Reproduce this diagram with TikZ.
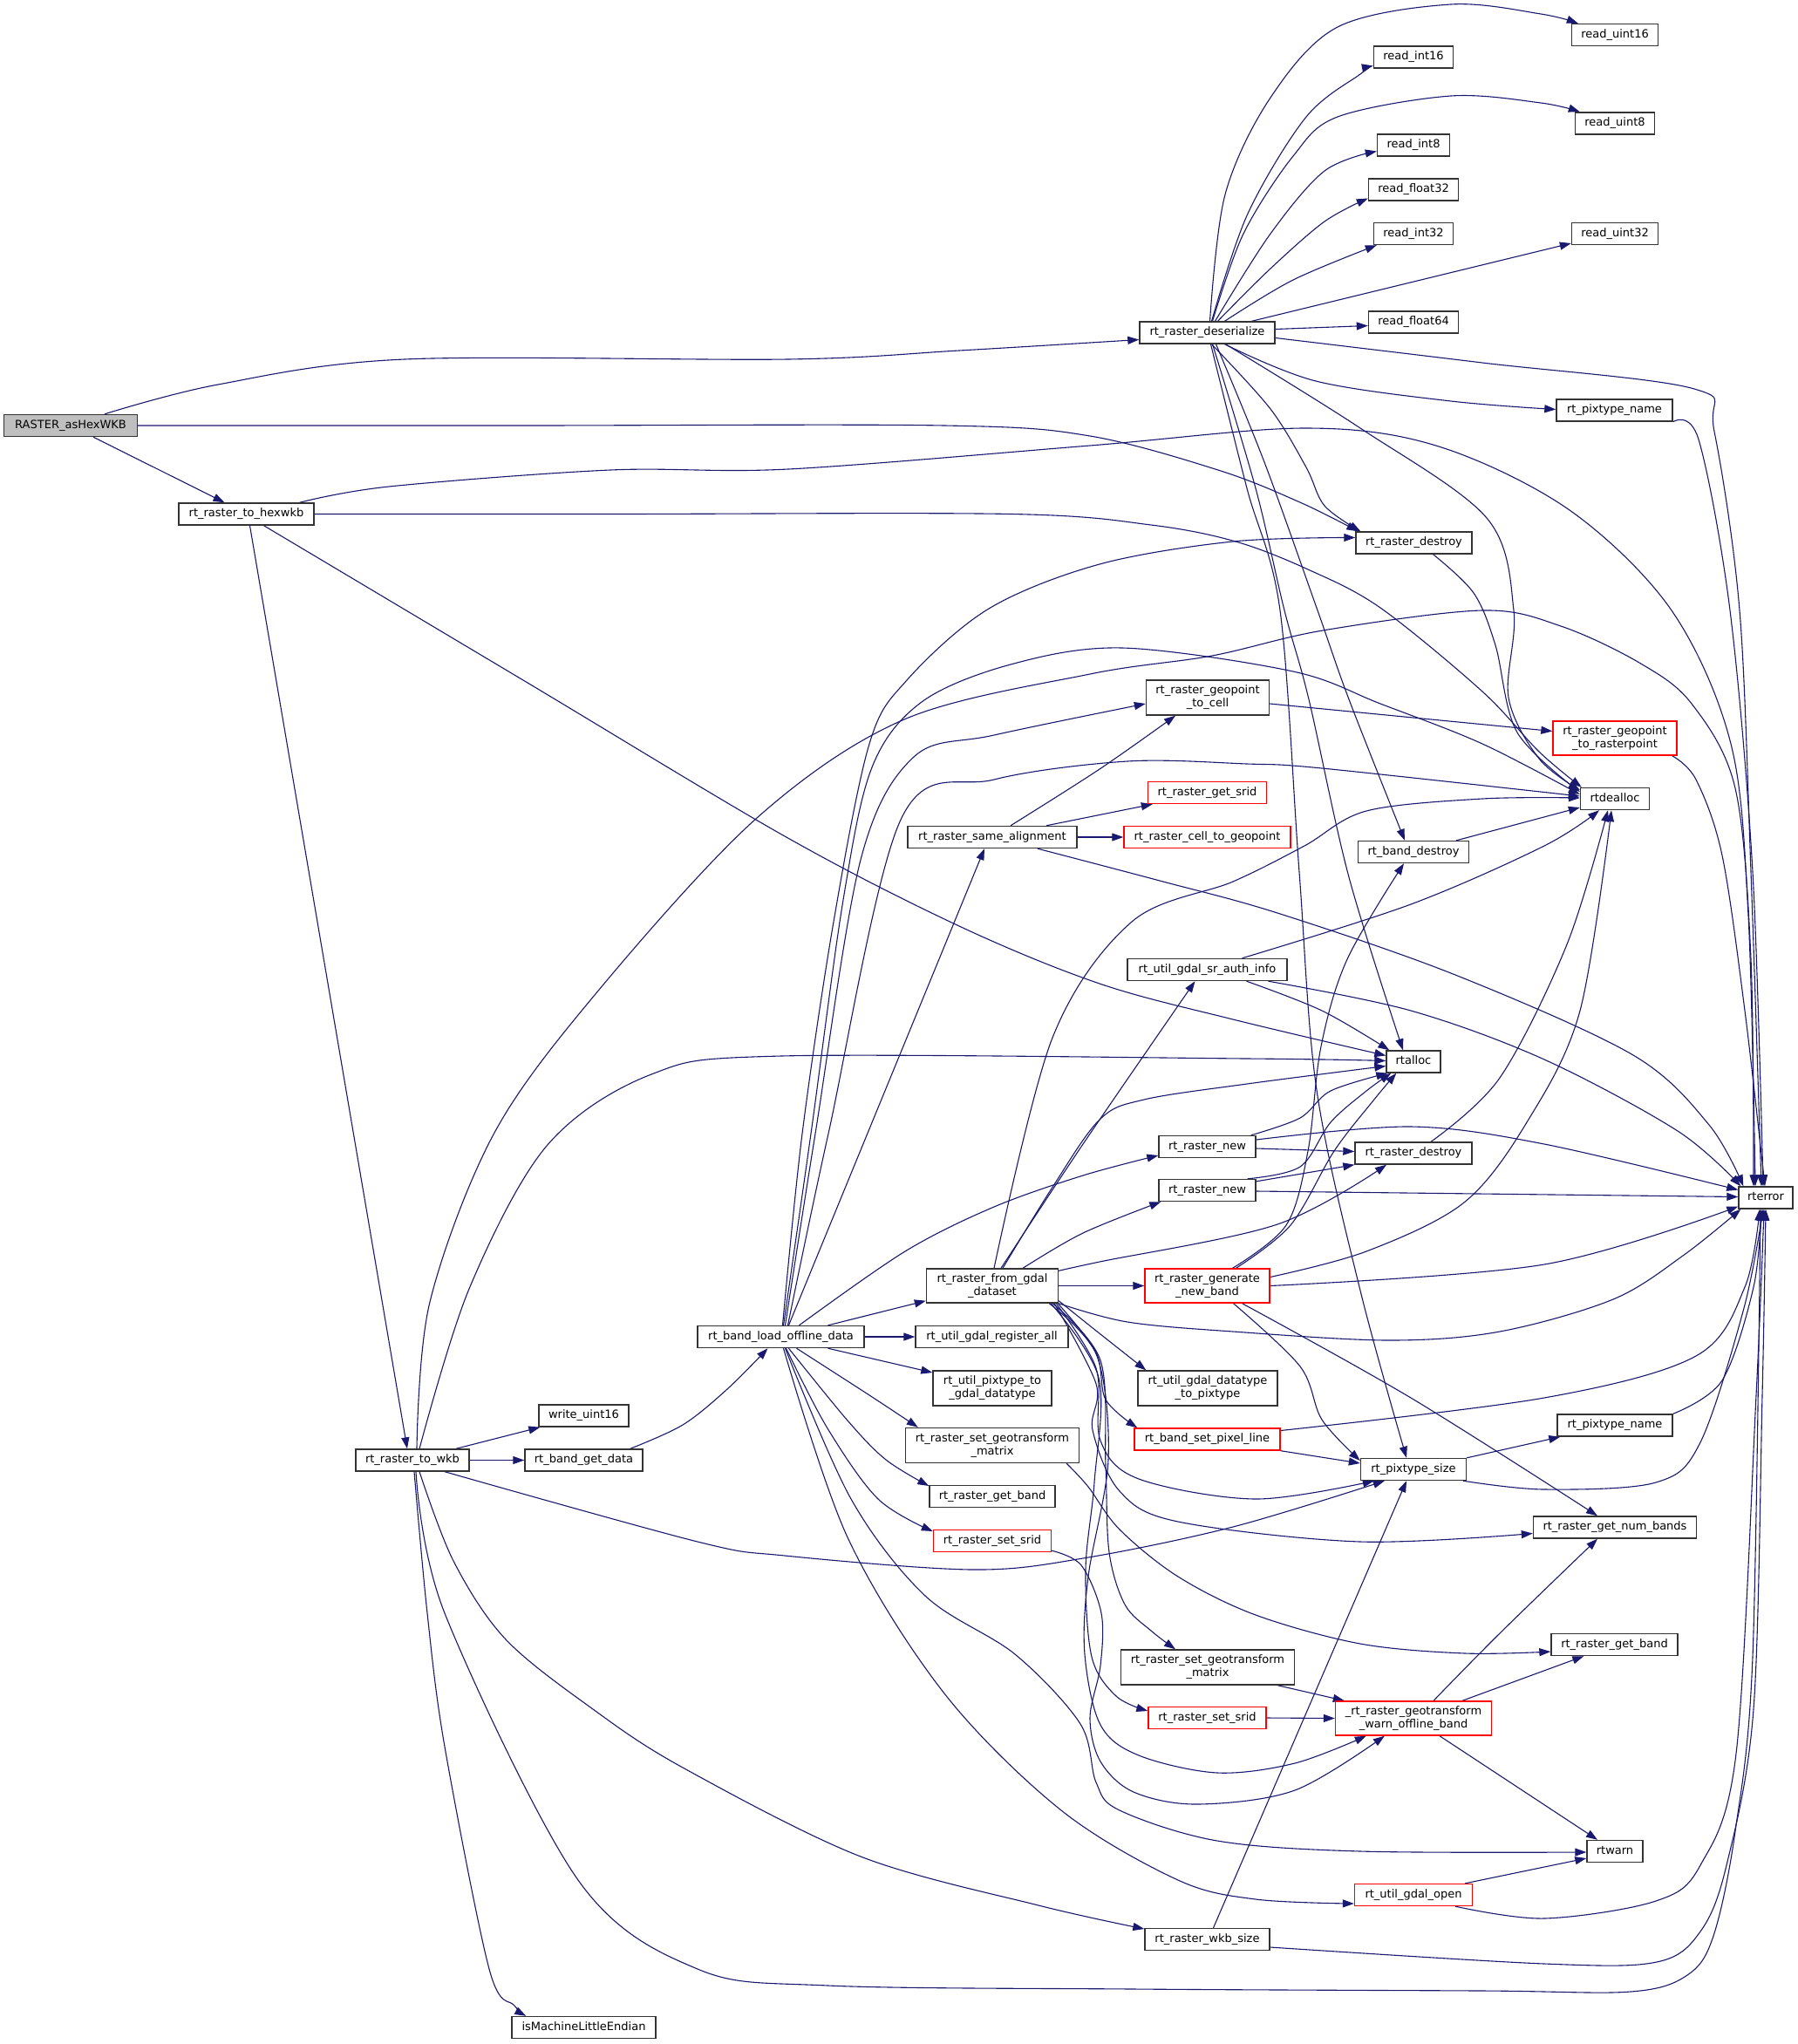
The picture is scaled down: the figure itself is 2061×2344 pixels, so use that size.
\documentclass[tikz,border=0pt]{standalone}
\usepackage{fontspec}
\setmainfont{DejaVu Sans}
\usetikzlibrary{arrows.meta,calc,backgrounds}
\definecolor{edgec}{HTML}{191970}
\definecolor{bordc}{HTML}{333333}
\definecolor{redc}{HTML}{FF0000}
\definecolor{grayc}{HTML}{BFBFBF}
\newcommand\dxfont{\fontsize{13pt}{15pt}\selectfont}
\begin{document}
\begin{tikzpicture}[x=1pt,y=-1pt,
  edg/.style={draw=edgec, line width=1.1pt, -{Triangle[length=13pt,width=9pt]}},
  edgs/.style={edg, smooth, tension=0.55},
  nd/.style={draw=bordc, line width=1.4pt, fill=white, inner sep=0pt, minimum height=25pt, font=\dxfont, text height=9.8pt, text depth=3.4pt},
  ndd/.style={draw=bordc, line width=1.4pt, fill=white, inner sep=0pt, minimum height=40pt, font=\dxfont, align=center},
  rd/.style={draw=redc}]
\useasboundingbox (0,0) rectangle (2061,2344);
% nodes
\node[nd, minimum width=153pt, fill=grayc] (A) at (81,488) {RASTER\_asHexWKB};
\node[nd, minimum width=155pt] (H) at (282.5,589.5) {rt\_raster\_to\_hexwkb};
\node[nd, minimum width=130pt] (W) at (473,1674.5) {rt\_raster\_to\_wkb};
\node[nd, minimum width=155pt] (D) at (1384.5,381.5) {rt\_raster\_deserialize};
\node[nd, minimum width=99pt] (RU16) at (1852,40) {read\_uint16};
\node[nd, minimum width=91pt] (RI16) at (1621,65.5) {read\_int16};
\node[nd, minimum width=91pt] (RU8) at (1852,141.5) {read\_uint8};
\node[nd, minimum width=83pt] (RI8) at (1621,166.5) {read\_int8};
\node[nd, minimum width=103pt] (RF32) at (1621,217.5) {read\_float32};
\node[nd, minimum width=91pt] (RI32) at (1621,268) {read\_int32};
\node[nd, minimum width=99pt] (RU32) at (1852,268) {read\_uint32};
\node[nd, minimum width=103pt] (RF64) at (1621,369.5) {read\_float64};
\node[nd, minimum width=133pt] (PN1) at (1851.5,470.5) {rt\_pixtype\_name};
\node[nd, minimum width=133pt] (RD1) at (1621.5,622.5) {rt\_raster\_destroy};
\node[ndd, minimum width=141pt] (GC) at (1385,800) {rt\_raster\_geopoint\\\_to\_cell};
\node[ndd, rd, minimum width=142pt, minimum height=39pt] (GR) at (1852,846.5) {rt\_raster\_geopoint\\\_to\_rasterpoint};
\node[nd, minimum width=79pt] (DA) at (1852,916) {rtdealloc};
\node[nd, rd, minimum width=136pt] (GS) at (1384.5,909) {rt\_raster\_get\_srid};
\node[nd, rd, minimum width=191pt] (CG) at (1384.5,960) {rt\_raster\_cell\_to\_geopoint};
\node[nd, minimum width=194pt] (SA) at (1138,960) {rt\_raster\_same\_alignment};
\node[nd, minimum width=127pt] (BD) at (1621,977) {rt\_band\_destroy};
\node[nd, minimum width=183pt] (SR) at (1384.5,1112) {rt\_util\_gdal\_sr\_auth\_info};
\node[nd, minimum width=62pt] (AL) at (1621,1217.5) {rtalloc};
\node[nd, minimum width=111pt] (RN1) at (1384.5,1315) {rt\_raster\_new};
\node[nd, minimum width=111pt] (RN2) at (1384.5,1365) {rt\_raster\_new};
\node[nd, minimum width=134pt] (RD2) at (1621,1322.5) {rt\_raster\_destroy};
\node[nd, minimum width=62pt] (E) at (2025,1373.5) {rterror};
\node[ndd, minimum width=151pt, minimum height=39pt] (FG) at (1138,1474.5) {rt\_raster\_from\_gdal\\\_dataset};
\node[ndd, rd, minimum width=143pt, minimum height=39pt] (GNB) at (1384.5,1474.5) {rt\_raster\_generate\\\_new\_band};
\node[nd, minimum width=191pt] (BL) at (895.5,1533) {rt\_band\_load\_offline\_data};
\node[nd, minimum width=175pt] (URA) at (1137.5,1533) {rt\_util\_gdal\_register\_all};
\node[ndd, minimum width=136pt] (UPG) at (1138,1592) {rt\_util\_pixtype\_to\\\_gdal\_datatype};
\node[ndd, minimum width=160pt] (UGP) at (1385,1592) {rt\_util\_gdal\_datatype\\\_to\_pixtype};
\node[ndd, minimum width=199pt] (SGM1) at (1138,1657.5) {rt\_raster\_set\_geotransform\\\_matrix};
\node[nd, rd, minimum width=167pt] (BSP) at (1384.5,1650.5) {rt\_band\_set\_pixel\_line};
\node[nd, minimum width=132pt] (PN2) at (1852,1634.5) {rt\_pixtype\_name};
\node[nd, minimum width=121pt] (PS) at (1621,1685) {rt\_pixtype\_size};
\node[nd, minimum width=144pt] (GB1) at (1138,1716) {rt\_raster\_get\_band};
\node[nd, minimum width=187pt] (NB) at (1852,1751.5) {rt\_raster\_get\_num\_bands};
\node[nd, rd, minimum width=135pt] (SS1) at (1138,1767) {rt\_raster\_set\_srid};
\node[nd, minimum width=145pt] (GB2) at (1851.5,1886) {rt\_raster\_get\_band};
\node[ndd, minimum width=199pt] (SGM2) at (1385,1912) {rt\_raster\_set\_geotransform\\\_matrix};
\node[nd, rd, minimum width=135pt] (SS2) at (1384.5,1970) {rt\_raster\_set\_srid};
\node[ndd, rd, minimum width=179pt, minimum height=39pt] (WOB) at (1621,1970.5) {\_rt\_raster\_geotransform\\\_warn\_offline\_band};
\node[nd, minimum width=64pt] (RW) at (1852,2123) {rtwarn};
\node[nd, rd, minimum width=135pt] (GO) at (1621,2173) {rt\_util\_gdal\_open};
\node[nd, minimum width=143pt] (WS) at (1384.5,2224) {rt\_raster\_wkb\_size};
\node[nd, minimum width=103pt] (WU16) at (669.5,1623.5) {write\_uint16};
\node[nd, minimum width=135pt] (BGD) at (669.5,1674.5) {rt\_band\_get\_data};
\node[nd, minimum width=165pt] (ME) at (669.5,2325) {isMachineLittleEndian};
\begin{pgfonlayer}{background}
\fill[white] (0,0) rectangle (2061,2344);
% A
\draw[edgs] plot coordinates {($(A.north)+(39,0)$) (250,441) (464,412) (904,412) (1100,402) ($(D.west)+(0,8)$)};
\draw[edgs] plot coordinates {(A.east) (600,488) (1083,488) (1250,500) (1400,540) (1493,577) ($(RD1.north west)+(3,0)$)};
\draw[edg] ($(A.south)+(26,0)$) -- ($(H.north)+(-25,0)$);
% H
\draw[edgs] plot coordinates {($(H.north)+(61,0)$) (446,558) (700,539) (904,538) (1250,511) (1498,491) (1650,512) (1800,585) (1917,700) (1985,853) (2005,1050) ($(E.north)+(-12,0)$)};
\draw[edgs] plot coordinates {(H.east) (700,589.5) (1160,589.5) (1320,602) (1417,621) (1500,653) (1583,697) (1700,793) (1765,862) ($(DA.north west)+(2,0)$)};
\draw[edgs] plot coordinates {($(H.south)+(20,0)$) (600,780) (900,959) (1100,1062) (1261,1128) (1414,1169) ($(AL.west)+(0,-7)$)};
\draw[edg] ($(H.south)+(4,0)$) -- ($(W.north)+(-6,0)$);
% D
\draw[edgs] plot coordinates {($(D.north)+(3,0)$) (1405,223) (1457,112) (1534,31) (1664,5) (1767,16) ($(RU16.north west)+(8,0)$)};
\draw[edgs] plot coordinates {($(D.north)+(5,0)$) (1431,245) (1498,134) (1560,85) ($(RI16.west)+(0,10)$)};
\draw[edgs] plot coordinates {($(D.north)+(6,0)$) (1426,268) (1483,179) (1534,134) (1664,110) (1767,118) ($(RU8.north west)+(6,0)$)};
\draw[edgs] plot coordinates {($(D.north)+(9,0)$) (1457,268) (1519,196) ($(RI8.west)+(0,7)$)};
\draw[edgs] plot coordinates {($(D.north)+(12,0)$) (1457,308) (1519,254) ($(RF32.west)+(0,10)$)};
\draw[edgs] plot coordinates {($(D.north)+(20,0)$) (1483,321) ($(RI32.south west)+(4,0)$)};
\draw[edg] ($(D.north)+(51,0)$) -- ($(RU32.west)+(0,11)$);
\draw[edg] ($(D.east)+(0,-4)$) -- ($(RF64.west)+(0,4)$);
\draw[edgs] plot coordinates {($(D.east)+(0,6)$) (1700,416) (1943,446) (1966,495) (1995,700) (2008,1000) ($(E.north)+(-5,0)$)};
\draw[edgs] plot coordinates {($(D.south)+(20,0)$) (1509,437) (1664,460) ($(PN1.west)+(0,-1)$)};
\draw[edgs] plot coordinates {($(D.south)+(5,0)$) (1457,469) (1498,536) (1519,580) ($(RD1.north west)+(6,0)$)};
\draw[edgs] plot coordinates {($(D.south)+(21,0)$) (1560,491) (1705,594) (1736,700) (1730,800) (1765,870) ($(DA.west)+(0,-10)$)};
\draw[edgs] plot coordinates {($(D.south)+(10,0)$) (1450,530) (1511,700) (1547,802) ($(BD.north)+(-10,0)$)};
\draw[edgs] plot coordinates {($(D.south)+(6,0)$) (1440,560) (1473,700) (1501,802) (1547,1006) ($(AL.north)+(-12,0)$)};
\draw[edgs] plot coordinates {($(D.south)+(4,0)$) (1430,560) (1468,700) (1490,1000) (1510,1250) (1560,1480) ($(PS.north)+(-8,0)$)};
% PN1 RD1 GC GR SA
\draw[edgs] plot coordinates {(PN1.south east) (1948,504) (1984,700) (2010,1000) ($(E.north)+(-3,0)$)};
\draw[edgs] plot coordinates {($(RD1.south)+(22,0)$) (1690,680) (1715,740) (1740,840) ($(DA.west)+(0,-8)$)};
\draw[edg] ($(GC.east)+(0,7)$) -- ($(GR.west)+(0,-8)$);
\draw[edgs] plot coordinates {($(GR.south east)+(-6,0)$) (1945,894) (1975,981) (2001,1159) ($(E.north)+(-1,0)$)};
\draw[edgs] plot coordinates {($(SA.north)+(21,0)$) (1261,882) ($(GC.south)+(-37,0)$)};
\draw[edg] ($(SA.north)+(62,0)$) -- ($(GS.south west)+(6,0)$);
\draw[edg] (SA.east) -- (CG.west);
\draw[edgs] plot coordinates {($(SA.south)+(52,0)$) (1330,1010) (1465,1047) (1669,1118) (1873,1210) (1960,1290) ($(E.north west)+(6,0)$)};
% BL
\draw[edgs] plot coordinates {($(BL.north)+(2,0)$) (920,1300) (956,1057) (997,853) (1040,780) (1134,698) (1261,647) (1414,621) ($(RD1.west)+(0,-6)$)};
\draw[edgs] plot coordinates {($(BL.north)+(3,0)$) (930,1300) (967,1032) (1000,880) (1057,805) (1159,762) (1287,743) (1483,770) (1583,807) (1700,853) ($(DA.west)+(0,-5)$)};
\draw[edgs] plot coordinates {($(BL.north)+(5,0)$) (935,1300) (987,986) (1048,868) (1140,843) ($(GC.west)+(0,7)$)};
\draw[edgs] plot coordinates {($(BL.north)+(8,0)$) (950,1300) (1033,940) (1140,894) (1293,873) (1430,876) (1516,881) ($(DA.west)+(0,-3)$)};
\draw[edg] ($(BL.north)+(9,0)$) -- ($(SA.south)+(-9,0)$);
\draw[edgs] plot coordinates {($(BL.north)+(21,0)$) (1038,1435) (1140,1384) (1242,1348) ($(RN1.west)+(0,10)$)};
\draw[edg] ($(BL.north)+(54,0)$) -- ($(FG.south west)+(0,-3)$);
\draw[edg] (BL.east) -- (URA.west);
\draw[edg] ($(BL.south)+(54,0)$) -- ($(UPG.west)+(0,-18)$);
\draw[edgs] plot coordinates {($(BL.south)+(18,0)$) (994,1598) ($(SGM1.north west)+(15,0)$)};
\draw[edgs] plot coordinates {($(BL.south)+(9,0)$) (972,1629) (1016,1674) ($(GB1.west)+(0,-12)$)};
\draw[edgs] plot coordinates {($(BL.south)+(6,0)$) (949,1638) (1007,1719) ($(SS1.west)+(0,-11)$)};
\draw[edgs] plot coordinates {($(BL.south)+(5,0)$) (976,1719) (1061,1830) (1164,1897) (1239,1977) (1257,2044) (1284,2076) (1396,2111) (1560,2123) ($(RW.west)+(0,1)$)};
\draw[edgs] plot coordinates {($(BL.south)+(3,0)$) (972,1763) (1083,1942) (1217,2076) (1351,2156) (1440,2178) ($(GO.west)+(0,10)$)};
\draw[edgs] plot coordinates {($(BGD.north east)+(-15,0)$) (783,1634) (834,1593) ($(BL.south)+(-15,0)$)};
% W
\draw[edg] ($(W.north)+(50,0)$) -- ($(WU16.south west)+(2,0)$);
\draw[edg] (W.east) -- (BGD.west);
\draw[edgs] plot coordinates {($(W.north)+(8,0)$) (538,1478) (627,1314) (747,1232) (896,1211) (1430,1214) ($(AL.west)+(0,-1)$)};
\draw[edgs] plot coordinates {($(W.north)+(5,0)$) (493,1493) (567,1299) (687,1135) (868,938) (1037,825) (1250,773) (1390,752) (1517,723) (1700,700) (1790,718) (1880,760) (1940,807) (1990,904) (2008,1100) ($(E.north)+(-14,0)$)};
\draw[edgs] plot coordinates {($(W.south)+(37,0)$) (800,1768) (900,1784) (1115,1800) (1242,1787) (1414,1751) ($(PS.south west)+(28,0)$)};
\draw[edgs] plot coordinates {($(W.south)+(8,0)$) (520,1790) (580,1880) (680,1960) (783,2027) (987,2129) (1191,2185) ($(WS.west)+(0,-12)$)};
\draw[edgs] plot coordinates {($(W.south)+(4,0)$) (510,1850) (663,2156) (800,2258) (950,2277) (1300,2281) (1700,2283) (1870,2284) (1935,2265) (1965,2220) (1990,2100) (2010,1900) ($(E.south)+(-6,0)$)};
\draw[edgs] plot coordinates {($(W.south)+(2,0)$) (490,1850) (510,2003) (561,2258) (590,2300) ($(ME.north west)+(17,0)$)};
% FG
\draw[edgs] plot coordinates {($(FG.north)+(2,0)$) (1207,1190) (1298,1057) (1414,1011) (1496,970) (1567,930) (1700,916) ($(DA.west)+(0,-1)$)};
\draw[edgs] plot coordinates {($(FG.north)+(10,0)$) (1242,1312) ($(SR.south)+(-14,0)$)};
\draw[edgs] plot coordinates {($(FG.north)+(12,0)$) (1206,1363) (1261,1284) (1312,1261) (1430,1243) ($(AL.west)+(0,5)$)};
\draw[edgs] plot coordinates {($(FG.north)+(35,0)$) (1242,1414) ($(RN2.south west)+(3,0)$)};
\draw[edgs] plot coordinates {($(FG.north east)+(0,3)$) (1261,1447) (1465,1404) ($(RD2.south)+(-31,0)$)};
\draw[edg] (FG.east) -- (GNB.west);
\draw[edgs] plot coordinates {(FG.south east) (1293,1516) (1414,1527) (1593,1537) (1720,1527) (1850,1490) (1930,1440) ($(E.south west)+(3,0)$)};
\draw[edgs] plot coordinates {($(FG.south east)+(0,-3)$) (1257,1526) ($(UGP.north west)+(10,0)$)};
\draw[edgs] plot coordinates {($(FG.south east)+(-1,0)$) (1257,1551) (1268,1605) ($(BSP.north west)+(4,0)$)};
\draw[edgs] plot coordinates {($(FG.south east)+(-3,0)$) (1257,1569) (1262,1652) (1306,1696) (1440,1719) ($(PS.south west)+(16,0)$)};
\draw[edgs] plot coordinates {($(FG.south east)+(-5,0)$) (1257,1587) (1253,1640) (1284,1710) (1351,1745) (1560,1768) ($(NB.west)+(0,7)$)};
\draw[edgs] plot coordinates {($(FG.south east)+(-7,0)$) (1262,1560) (1268,1680) (1272,1780) (1290,1840) (1320,1870) ($(SGM2.north)+(-37,0)$)};
\draw[edgs] plot coordinates {($(FG.south east)+(-9,0)$) (1260,1580) (1255,1700) (1245,1800) (1252,1900) (1280,1945) ($(SS2.west)+(0,-8)$)};
\draw[edgs] plot coordinates {($(FG.south east)+(-11,0)$) (1258,1555) (1271,1674) (1248,1808) (1244,1897) (1262,1978) (1306,2013) (1396,2033) (1485,2022) ($(WOB.south west)+(36,0)$)};
\draw[edgs] plot coordinates {($(SS1.south east)+(0,-2)$) (1240,1795) (1263,1850) (1262,1910) (1250,1970) (1262,2020) (1300,2055) (1373,2069) (1485,2053) ($(WOB.south west)+(57,0)$)};
\draw[edgs] plot coordinates {($(SGM1.south east)+(-15,0)$) (1248,1705) (1284,1754) (1351,1808) (1440,1852) (1560,1885) (1680,1896) ($(GB2.west)+(0,8)$)};
% GNB
\draw[edgs] plot coordinates {($(GNB.north)+(33,0)$) (1480,1405) (1530,1320) (1575,1262) ($(AL.south west)+(12,0)$)};
\draw[edgs] plot coordinates {($(GNB.north)+(29,0)$) (1475,1405) (1500,1320) (1515,1200) (1545,1100) ($(BD.south)+(-11,0)$)};
\draw[edgs] plot coordinates {($(GNB.east)+(0,-10)$) (1567,1435) (1679,1379) (1751,1287) (1812,1159) ($(DA.south)+(-4,0)$)};
\draw[edgs] plot coordinates {(GNB.east) (1771,1450) ($(E.west)+(0,10)$)};
\draw[edgs] plot coordinates {($(GNB.south)+(30,0)$) (1491,1567) (1516,1628) ($(PS.west)+(0,-10)$)};
\draw[edgs] plot coordinates {($(GNB.south)+(40,0)$) (1618,1603) ($(NB.north)+(-20,0)$)};
% BSP PS PN2 WS GO
\draw[edg] (BSP.south east) -- ($(PS.west)+(0,-7)$);
\draw[edgs] plot coordinates {($(BSP.east)+(0,-10)$) (1771,1603) (1945,1555) (2001,1476) ($(E.south)+(-7,0)$)};
\draw[edg] (PS.north east) -- ($(PN2.south west)+(4,0)$);
\draw[edgs] plot coordinates {($(PS.south east)+(-4,0)$) (1771,1708) (1899,1700) (1950,1654) (2000,1500) ($(E.south)+(-3,0)$)};
\draw[edgs] plot coordinates {(PN2.north east) (1975,1583) (2011,1476) ($(E.south)+(-5,0)$)};
\draw[edg] ($(WS.north)+(7,0)$) -- ($(PS.south)+(-8,0)$);
\draw[edgs] plot coordinates {($(WS.east)+(0,9)$) (1771,2252) (1900,2250) (1950,2215) (1980,2139) (2011,1960) (2021,1600) (E.south)};
\draw[edg] ($(GO.north east)+(-9,0)$) -- ($(RW.west)+(0,8)$);
\draw[edgs] plot coordinates {($(GO.south east)+(-20,0)$) (1771,2200) (1899,2180) (1950,2139) (1991,2011) (2014,1600) ($(E.south)+(-2,0)$)};
% WOB SGM2 SS2
\draw[edgs] plot coordinates {($(WOB.north)+(23,0)$) (1720,1873) ($(NB.south)+(-20,0)$)};
\draw[edg] ($(WOB.north)+(56,0)$) -- ($(GB2.south west)+(38,0)$);
\draw[edg] ($(WOB.south)+(30,0)$) -- ($(RW.north)+(-20,0)$);
\draw[edg] ($(SGM2.south east)+(-20,0)$) -- ($(WOB.north west)+(11,0)$);
\draw[edg] (SS2.east) -- (WOB.west);
% RN1 RN2 RD2 BD SR
\draw[edgs] plot coordinates {($(RN1.north east)+(-6,0)$) (1491,1282) (1526,1251) ($(AL.south west)+(2,0)$)};
\draw[edg] ($(RN1.east)+(0,2)$) -- ($(RD2.west)+(0,-2)$);
\draw[edgs] plot coordinates {($(RN1.east)+(0,-8)$) (1618,1292) (1771,1312) ($(E.west)+(0,-9)$)};
\draw[edgs] plot coordinates {($(RN2.north east)+(-10,0)$) (1491,1338) (1526,1287) (1567,1251) ($(AL.south west)+(6,0)$)};
\draw[edg] ($(RN2.north east)+(0,3)$) -- (RD2.south west);
\draw[edg] ($(RN2.east)+(0,1)$) -- ($(E.west)+(0,-1)$);
\draw[edgs] plot coordinates {($(RD2.north)+(20,0)$) (1720,1236) (1797,1083) ($(DA.south)+(-8,0)$)};
\draw[edg] ($(BD.north east)+(-15,0)$) -- ($(DA.west)+(0,10)$);
\draw[edgs] plot coordinates {($(SR.north)+(40,0)$) (1618,1037) (1771,970) ($(DA.south)+(-18,0)$)};
\draw[edgs] plot coordinates {($(SR.south)+(45,0)$) (1516,1159) ($(AL.north west)+(4,0)$)};
\draw[edgs] plot coordinates {($(SR.south)+(70,0)$) (1618,1159) (1771,1215) (1924,1297) ($(E.north west)+(3,0)$)};
\end{pgfonlayer}
\end{tikzpicture}
\end{document}
